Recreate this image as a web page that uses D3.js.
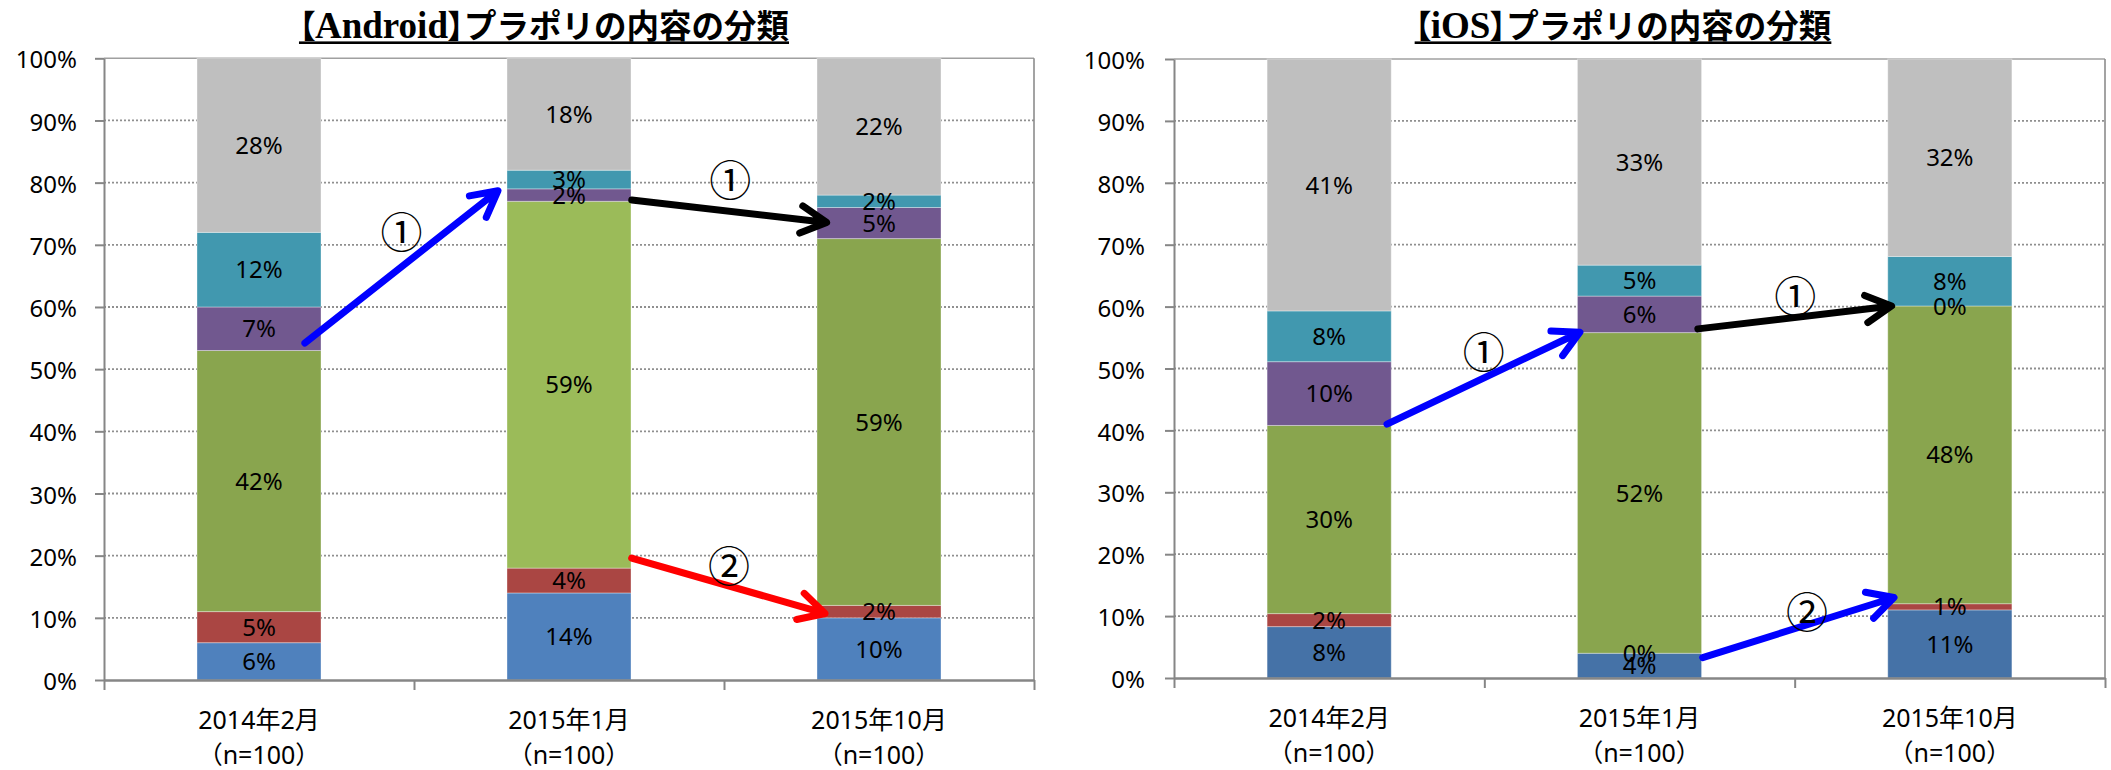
<!DOCTYPE html>
<html><head><meta charset="utf-8">
<script src="https://cdn.jsdelivr.net/npm/d3@7/dist/d3.min.js"></script>
<style>
body{margin:0;background:#fff;}
</style></head><body>
<svg id="c" width="2111" height="770" style="font-family:'Noto Sans','Noto Sans CJK JP',sans-serif"></svg>
<script>
// ---------- data ----------
const categories = ["2014年2月", "2015年1月", "2015年10月"];
const sampleLabels = ["（n=100）", "（n=100）", "（n=100）"];
const yTicks = [0, 10, 20, 30, 40, 50, 60, 70, 80, 90, 100];
const seriesKeys = ["blue", "red", "green", "purple", "teal", "gray"]; // bottom -> top

const androidBlue   = [6, 14, 10];
const androidRed    = [5, 4, 2];
const androidGreen  = [42, 59, 59];
const androidPurple = [7, 2, 5];
const androidTeal   = [12, 3, 2];
const androidGray   = [28, 18, 22];

const iosBlue   = [8.3, 4.0, 11.0];
const iosRed    = [2.1, 0.0, 1.0];
const iosGreen  = [30.4, 51.8, 48.1];
const iosPurple = [10.3, 5.9, 0.0];
const iosTeal   = [8.2, 5.0, 8.0];
const iosGray   = [40.7, 33.3, 31.9];

// arrows: [category index, fraction of bar width, value %]
const androidArrows = [
  {from: [0, 0.87, 54.2], to: [1, -0.073, 78.7], mark: "①", at: [0, 1.65, 71.9]},
  {from: [1, 1.006, 77.2], to: [2, 0.078, 73.6], mark: "①", at: [1, 1.8, 80.3]},
  {from: [1, 1.005, 19.6], to: [2, 0.065, 10.7], mark: "②", at: [1, 1.79, 18.2]}
];
const iosArrows = [
  {from: [0, 0.966, 41.0], to: [1, 0.02, 55.85], mark: "①", at: [0, 1.745, 52.5]},
  {from: [1, 0.97, 56.4], to: [2, 0.031, 60.1], mark: "①", at: [1, 1.755, 61.6]},
  {from: [1, 1.009, 3.3], to: [2, 0.05, 13.0], mark: "②", at: [1, 1.85, 10.6]}
];

// ---------- styles ----------
const androidColors = {
  blue: ["#4F81BD", "#4F81BD", "#4F81BD"],
  red: ["#AA4643", "#AA4643", "#AA4643"],
  green: ["#89A54E", "#9BBB59", "#89A54E"],
  purple: ["#71588F", "#71588F", "#71588F"],
  teal: ["#4198AF", "#4198AF", "#4198AF"],
  gray: ["#BFBFBF", "#BFBFBF", "#BFBFBF"]
};
const iosColors = {
  blue: ["#4572A7", "#4572A7", "#4572A7"],
  red: ["#AA4643", "#AA4643", "#AA4643"],
  green: ["#89A54E", "#89A54E", "#89A54E"],
  purple: ["#71588F", "#71588F", "#71588F"],
  teal: ["#4198AF", "#4198AF", "#4198AF"],
  gray: ["#BFBFBF", "#BFBFBF", "#BFBFBF"]
};
const androidArrowColors = ["#0000FF", "#000000", "#FF0000"];
const iosArrowColors = ["#0000FF", "#000000", "#0000FF"];

const svg = d3.select("#c");
const AXIS = "#868686";

function buildTable(b, r, g, p, t, gr) {
  return categories.map((c, i) => ({cat: c, idx: i, blue: b[i], red: r[i], green: g[i], purple: p[i], teal: t[i], gray: gr[i]}));
}

function drawChart(opt) {
  const {x0, x1, yTop, yBottom, table, colors, arrows, arrowColors, latin, titleCx, labelPad} = opt;
  const g = svg.append("g");
  const x = d3.scaleBand().domain(categories).range([x0, x1]).paddingInner(0.6).paddingOuter(0.3);
  const y = d3.scaleLinear().domain([0, 100]).range([yBottom, yTop]);
  const bw = x.bandwidth();

  // gridlines
  g.append("g").selectAll("line").data(yTicks.filter(d => d > 0 && d < 100)).join("line")
    .attr("x1", x0).attr("x2", x1).attr("y1", d => y(d)).attr("y2", d => y(d))
    .attr("stroke", "#8f8f8f").attr("stroke-width", 1.8).attr("stroke-dasharray", "2 2");
  // top & right border
  g.append("line").attr("x1", x0).attr("x2", x1).attr("y1", y(100)).attr("y2", y(100))
    .attr("stroke", "#a0a0a0").attr("stroke-width", 1.6);
  g.append("line").attr("x1", x1).attr("x2", x1).attr("y1", y(100)).attr("y2", yBottom)
    .attr("stroke", "#8c8c8c").attr("stroke-width", 1.6);

  // stacked bars
  const stacked = d3.stack().keys(seriesKeys)(table);
  const bars = g.append("g");
  stacked.forEach(layer => {
    bars.append("g").selectAll("rect").data(layer).join("rect")
      .attr("x", d => x(d.data.cat))
      .attr("width", bw)
      .attr("y", d => y(d[1]))
      .attr("height", d => Math.max(0, y(d[0]) - y(d[1])))
      .attr("fill", d => colors[layer.key][d.data.idx])
      .attr("stroke", "rgba(255,255,255,0.35)").attr("stroke-width", 1);
  });
  // data labels
  stacked.forEach(layer => {
    g.append("g").selectAll("text").data(layer).join("text")
      .attr("x", d => x(d.data.cat) + bw / 2)
      .attr("y", d => y((d[0] + d[1]) / 2))
      .attr("dy", "0.36em")
      .attr("text-anchor", "middle")
      .style("font-size", "24px").attr("fill", "#000")
      .text(d => d3.format(".0f")(d[1] - d[0]) + "%");
  });

  // y axis
  const ya = d3.axisLeft(y).tickValues(yTicks).tickSize(9).tickSizeOuter(0).tickPadding(labelPad)
    .tickFormat(d => d + "%");
  const yg = g.append("g").attr("transform", `translate(${x0},0)`).call(ya);
  yg.select(".domain").attr("stroke", AXIS).attr("stroke-width", 2);
  yg.selectAll(".tick line").attr("stroke", AXIS).attr("stroke-width", 2);
  yg.selectAll(".tick text").attr("dy", "0.4em").style("font-size", "24px")
    .style("font-family", "'Noto Sans','Noto Sans CJK JP',sans-serif").attr("fill", "#000");

  // x axis with boundary ticks
  const xb = d3.scaleLinear().domain([0, categories.length]).range([x0, x1]);
  const xa = d3.axisBottom(xb).tickValues(d3.range(categories.length + 1)).tickSize(10).tickSizeOuter(0).tickFormat("");
  const xg = g.append("g").attr("transform", `translate(0,${yBottom})`).call(xa);
  xg.select(".domain").attr("stroke", AXIS).attr("stroke-width", 2.4);
  xg.selectAll(".tick line").attr("stroke", AXIS).attr("stroke-width", 2);

  // category labels
  g.append("g").selectAll("text").data(categories).join("text")
    .attr("x", d => x(d) + bw / 2).attr("y", yBottom + 49)
    .attr("text-anchor", "middle").style("font-size", "25px").attr("fill", "#000")
    .text(d => d);
  g.append("g").selectAll("text").data(sampleLabels).join("text")
    .attr("x", (d, i) => x(categories[i]) + bw / 2).attr("y", yBottom + 84)
    .attr("text-anchor", "middle").style("font-size", "25px").attr("fill", "#000")
    .text(d => d);

  // arrows
  const px = p => x(categories[p[0]]) + p[1] * bw;
  const py = p => y(p[2]);
  arrows.forEach((a, i) => {
    const sx = px(a.from), sy = py(a.from), tx = px(a.to), ty = py(a.to);
    const th = Math.atan2(ty - sy, tx - sx);
    const L = 29, ang = 28 * Math.PI / 180;
    const w1 = [tx - L * Math.cos(th - ang), ty - L * Math.sin(th - ang)];
    const w2 = [tx - L * Math.cos(th + ang), ty - L * Math.sin(th + ang)];
    const ex = tx - 4 * Math.cos(th), ey = ty - 4 * Math.sin(th);
    const path = d3.path();
    path.moveTo(sx, sy); path.lineTo(ex, ey);
    path.moveTo(w1[0], w1[1]); path.lineTo(tx, ty); path.lineTo(w2[0], w2[1]);
    g.append("path").attr("d", path.toString()).attr("fill", "none")
      .attr("stroke", arrowColors[i]).attr("stroke-width", 7)
      .attr("stroke-linecap", "round").attr("stroke-linejoin", "round");
    g.append("text").attr("x", px(a.at)).attr("y", py(a.at)).attr("dy", "0.36em")
      .attr("text-anchor", "middle").style("font-family", "'Noto Sans CJK JP'")
      .style("font-size", "42px").attr("fill", "#000").text(a.mark);
  });

  // title
  const t = svg.append("text").attr("x", titleCx).attr("y", 38).attr("text-anchor", "middle")
    .style("font-weight", "bold").attr("fill", "#000");
  t.append("tspan").style("font-family", "'Noto Sans CJK JP'").style("font-feature-settings", "'palt' 1")
    .style("font-size", "32px").text("【");
  t.append("tspan").style("font-family", "'Liberation Serif'").style("font-size", "37px").text(latin);
  t.append("tspan").style("font-family", "'Noto Sans CJK JP'").style("font-feature-settings", "'palt' 1")
    .style("font-size", "32px").text("】");
  t.append("tspan").style("font-family", "'Noto Sans CJK JP'").style("font-size", "32.5px")
    .text("プラポリの内容の分類");
  const bb = t.node().getBBox();
  svg.append("rect").attr("x", bb.x).attr("y", 41.4).attr("width", bb.width).attr("height", 2.6).attr("fill", "#000");
}

drawChart({
  x0: 104, x1: 1034, yTop: 58.3, yBottom: 680,
  table: buildTable(androidBlue, androidRed, androidGreen, androidPurple, androidTeal, androidGray),
  colors: androidColors, arrows: androidArrows, arrowColors: androidArrowColors,
  latin: "Android", titleCx: 544, labelPad: 18
});
drawChart({
  x0: 1174, x1: 2105, yTop: 59, yBottom: 678,
  table: buildTable(iosBlue, iosRed, iosGreen, iosPurple, iosTeal, iosGray),
  colors: iosColors, arrows: iosArrows, arrowColors: iosArrowColors,
  latin: "iOS", titleCx: 1623, labelPad: 20
});
</script>
</body></html>
